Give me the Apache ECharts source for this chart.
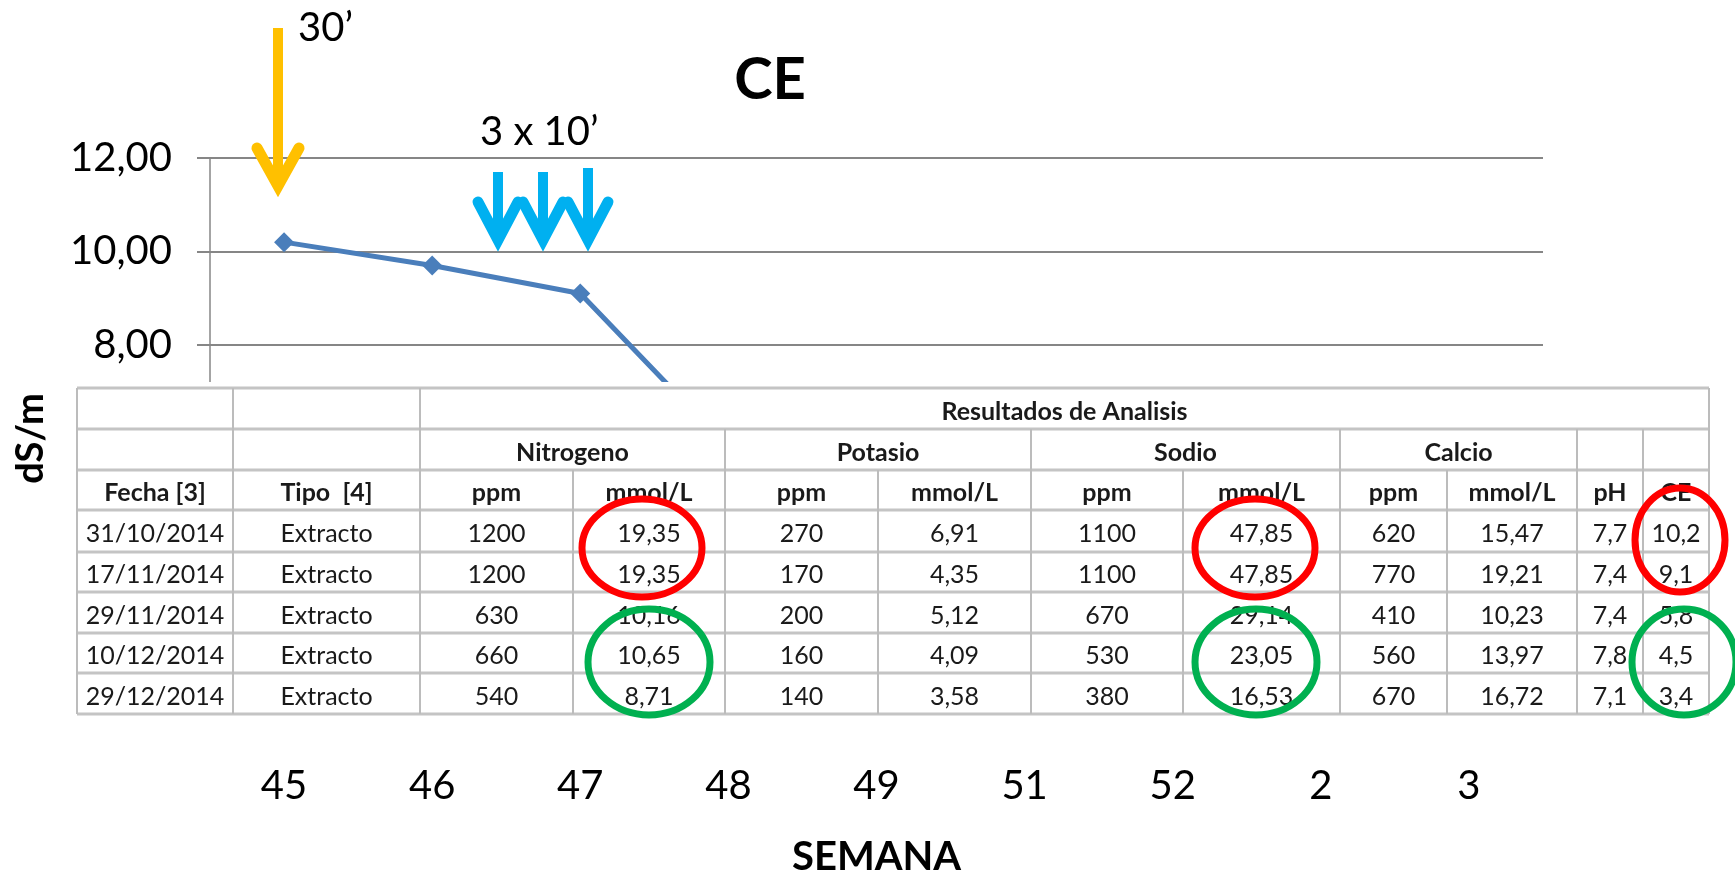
<!DOCTYPE html>
<html>
<head>
<meta charset="utf-8">
<script src="https://cdn.jsdelivr.net/npm/echarts@6/dist/echarts.min.js"></script>
<style>
  html, body { margin: 0; padding: 0; background: #fff; }
  #chart { width: 1735px; height: 871px; }
</style>
</head>
<body>
<div id="chart"></div>
<script>
// chart data
const semanas = ['45', '46', '47', '48', '49', '51', '52', '2', '3']
const ceValores = [10.2, 9.7, 9.1, 5.8, 5.0, 4.5, 4.0, 3.4, 3.2]

// table pasted over the chart
const tituloTabla = 'Resultados de Analisis'
const grupos = ['Nitrogeno', 'Potasio', 'Sodio', 'Calcio']
const unidades = ['Fecha [3]', 'Tipo  [4]', 'ppm', 'mmol/L', 'ppm', 'mmol/L', 'ppm', 'mmol/L', 'ppm', 'mmol/L', 'pH', 'CE']
const fechas = ['31/10/2014', '17/11/2014', '29/11/2014', '10/12/2014', '29/12/2014']
const tipos = ['Extracto', 'Extracto', 'Extracto', 'Extracto', 'Extracto']
const nitrogenoPpm = [1200, 1200, 630, 660, 540]
const nitrogenoMmol = [19.35, 19.35, 10.16, 10.65, 8.71]
const potasioPpm = [270, 170, 200, 160, 140]
const potasioMmol = [6.91, 4.35, 5.12, 4.09, 3.58]
const sodioPpm = [1100, 1100, 670, 530, 380]
const sodioMmol = [47.85, 47.85, 29.14, 23.05, 16.53]
const calcioPpm = [620, 770, 410, 560, 670]
const calcioMmol = [15.47, 19.21, 10.23, 13.97, 16.72]
const phValores = [7.7, 7.4, 7.4, 7.8, 7.1]
const ceTabla = [10.2, 9.1, 5.8, 4.5, 3.4]

// table layout (pixels)
const colX = [77, 233, 420, 573, 725, 878, 1031, 1183, 1340, 1447, 1577, 1643, 1709]
const rowY = [388, 429, 470, 510, 552, 592, 633, 673, 714]

let chart = echarts.init(document.getElementById('chart'))

function coma(v) {
  return typeof v === 'number' ? String(v).replace('.', ',') : v
}

function cellText(text, c0, c1, r, bold) {
  return {
    type: 'text', z: 110,
    x: (colX[c0] + colX[c1]) / 2, y: (rowY[r] + rowY[r + 1]) / 2 + 3,
    style: {
      text: text, fill: '#1a1a1a', align: 'center', verticalAlign: 'middle',
      font: (bold ? 'bold ' : '') + '25px Lato'
    }
  }
}

function buildTable() {
  let els = []
  let left = colX[0], right = colX[colX.length - 1]
  let top = rowY[0], bottom = rowY[rowY.length - 1]
  els.push({
    type: 'rect', z: 100,
    shape: {x: left - 10, y: top - 6, width: right - left + 16, height: bottom - top + 14},
    style: {fill: '#ffffff'}
  })
  rowY.forEach(function (y) {
    els.push({type: 'line', z: 105, shape: {x1: left, y1: y, x2: right, y2: y},
      style: {stroke: '#c4c4c4', lineWidth: 3}})
  })
  let groupCols = [4, 6, 8, 10, 11]
  colX.forEach(function (x, i) {
    let y1 = top
    if (groupCols.indexOf(i) >= 0) y1 = rowY[1]
    else if (i > 2 && i < colX.length - 1) y1 = rowY[2]
    els.push({type: 'line', z: 105, shape: {x1: x, y1: y1, x2: x, y2: bottom},
      style: {stroke: '#bcbcbc', lineWidth: 2}})
  })
  els.push(cellText(tituloTabla, 2, 12, 0, true))
  grupos.forEach(function (g, i) {
    els.push(cellText(g, 2 + i * 2, 4 + i * 2, 1, true))
  })
  unidades.forEach(function (u, i) {
    els.push(cellText(u, i, i + 1, 2, true))
  })
  let columnas = [fechas, tipos, nitrogenoPpm, nitrogenoMmol, potasioPpm, potasioMmol,
    sodioPpm, sodioMmol, calcioPpm, calcioMmol, phValores, ceTabla]
  columnas.forEach(function (col, c) {
    col.forEach(function (v, r) {
      els.push(cellText(coma(v), c, c + 1, 3 + r, false))
    })
  })
  return els
}

function ellipse(cx, cy, rx, ry, color) {
  return {
    type: 'ellipse', z: 120,
    shape: {cx: cx, cy: cy, rx: rx, ry: ry},
    style: {fill: null, stroke: color, lineWidth: 7}
  }
}

function arrow(x, yTop, yTip, half, color) {
  return [
    {type: 'line', z: 120, shape: {x1: x, y1: yTop, x2: x, y2: yTip - 8},
      style: {stroke: color, lineWidth: 10}},
    {type: 'polyline', z: 120,
      shape: {points: [[x - half, yTip - 40], [x, yTip - 2], [x + half, yTip - 40]]},
      style: {stroke: color, lineWidth: 11, lineCap: 'round', lineJoin: 'miter', fill: null}}
  ]
}

let notas = []
notas = notas.concat(arrow(278, 28, 188, 21, '#ffc000'))
notas = notas.concat(arrow(498, 172, 242, 20, '#00b0f0'))
notas = notas.concat(arrow(543, 172, 242, 20, '#00b0f0'))
notas = notas.concat(arrow(588, 168, 242, 20, '#00b0f0'))
notas.push({type: 'text', z: 120, x: 298, y: 28,
  style: {text: '30\u2019', font: '40px Lato', fill: '#000', verticalAlign: 'middle'}})
notas.push({type: 'text', z: 120, x: 480, y: 132,
  style: {text: '3 x 10\u2019', font: '40px Lato', fill: '#000', verticalAlign: 'middle'}})
notas.push({type: 'text', z: 120, x: 770, y: 80,
  style: {text: 'CE', font: 'bold 58px Lato', fill: '#000', align: 'center', verticalAlign: 'middle'}})

let circulos = [
  ellipse(642, 548, 60, 49, '#ff0000'),
  ellipse(649, 662, 61, 53, '#00b050'),
  ellipse(1255, 548, 60, 49, '#ff0000'),
  ellipse(1256, 662, 61, 53, '#00b050'),
  ellipse(1680, 540, 45, 52, '#ff0000'),
  ellipse(1684, 662, 52, 53, '#00b050')
]

let option = {
  animation: false,
  backgroundColor: '#ffffff',
  grid: {left: 210, right: 192, top: 158, bottom: 152, containLabel: false, outerBoundsMode: 'none'},
  xAxis: {
    type: 'category',
    data: semanas,
    boundaryGap: true,
    name: 'SEMANA',
    nameLocation: 'middle',
    nameGap: 118,
    nameTextStyle: {fontFamily: 'Lato', fontWeight: 'bold', fontSize: 40, color: '#000'},
    axisLine: {lineStyle: {color: '#868686', width: 2}},
    axisTick: {show: false},
    axisLabel: {fontFamily: 'Lato', fontSize: 40, color: '#000', margin: 47}
  },
  yAxis: {
    type: 'value',
    min: 0,
    max: 12,
    interval: 2,
    name: 'dS/m',
    nameLocation: 'middle',
    nameRotate: 90,
    nameGap: 160,
    nameTextStyle: {fontFamily: 'Lato', fontWeight: 'bold', fontSize: 38, color: '#000'},
    axisLine: {show: true, lineStyle: {color: '#868686', width: 1.5}},
    axisTick: {show: true, length: 13, lineStyle: {color: '#868686', width: 2}},
    splitLine: {lineStyle: {color: '#868686', width: 2}},
    axisLabel: {
      fontFamily: 'Lato', fontSize: 40, color: '#000', margin: 38, showMinLabel: false,
      formatter: function (v) { return v.toFixed(2).replace('.', ',') }
    }
  },
  series: [{
    type: 'line',
    data: ceValores,
    symbol: 'diamond',
    symbolSize: 20,
    itemStyle: {color: '#4a7ebb'},
    lineStyle: {color: '#4a7ebb', width: 5}
  }],
  graphic: buildTable().concat(circulos).concat(notas)
}

chart.setOption(option)
</script>
</body>
</html>
